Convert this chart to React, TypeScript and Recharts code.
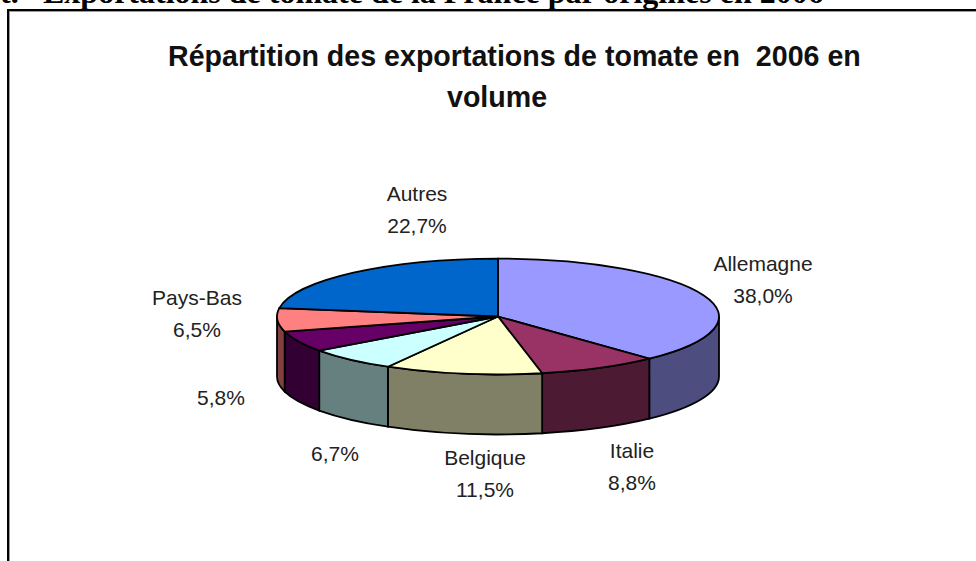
import { PieChart, Pie } from "recharts"

const categories = ["Allemagne", "Italie", "Belgique", "", "", "Pays-Bas", "Autres"]
const shares = [38.0, 8.8, 11.5, 6.7, 5.8, 6.5, 22.7]
const topColors = ["#9999FF", "#993366", "#FFFFCC", "#CCFFFF", "#660066", "#FF8080", "#0066CC"]
const wallColors = ["#4D4D80", "#4D1A33", "#808066", "#668080", "#330033", "#804040", "#003366"]
// hand placed in the original, so they are kept by hand here too (centre x, first line y)
const labelSpots = [
  [763, 271],
  [632, 458],
  [485, 465],
  [335, 461],
  [221, 405],
  [197, 305],
  [417, 201],
]

const data = categories.map((name, i) => ({ name, value: shares[i], fill: topColors[i] }))

const FONT = "'Liberation Sans', Arial, sans-serif"
const SERIF = "'Liberation Serif', serif"
const WIDTH = 976
const HEIGHT = 561
const CX = 498
const CY = 316.5
const RX = 221
const SQUASH = 0.262
const DEPTH = 60

// recharts hands us polar angles, we flatten them onto the tilted ellipse
function pt(angle: number, r: number, dy = 0) {
  const a = (angle * Math.PI) / 180
  return [CX + r * Math.cos(a), CY - r * SQUASH * Math.sin(a) + dy]
}

function Slice3D(props: any) {
  const { startAngle, endAngle, outerRadius, index } = props
  const r = outerRadius
  const ry = r * SQUASH
  const [x0, y0] = pt(startAngle, r)
  const [x1, y1] = pt(endAngle, r)
  const large = Math.abs(startAngle - endAngle) > 180 ? 1 : 0
  const top = `M${CX},${CY} L${x0},${y0} A${r},${ry} 0 ${large} 1 ${x1},${y1} Z`

  // the wall only shows on the front half of the rim (polar -180..0)
  let wall = null
  const from = Math.min(startAngle, 0)
  const to = Math.max(endAngle, -180)
  if (from > to) {
    const [ax, ay] = pt(from, r)
    const [bx, by] = pt(to, r)
    wall = (
      <path
        d={`M${ax},${ay} A${r},${ry} 0 0 1 ${bx},${by} L${bx},${by + DEPTH} A${r},${ry} 0 0 0 ${ax},${ay + DEPTH} Z`}
        fill={wallColors[index]}
        stroke="#000"
        strokeWidth={1.8}
      />
    )
  }
  return (
    <g>
      {wall}
      <path d={top} fill={topColors[index]} stroke="#000" strokeWidth={1.8} />
    </g>
  )
}

const renderLabel = ({ index, name, value }: any) => {
  const [x, y] = labelSpots[index]
  const pct = `${value.toFixed(1).replace(".", ",")}%`
  return (
    <text x={x} y={y} textAnchor="middle" fontFamily={FONT} fontSize={21} fill="#222">
      {name && <tspan x={x}>{name}</tspan>}
      <tspan x={x} dy={name ? 32 : 0}>{pct}</tspan>
    </text>
  )
}

export default function App() {
  return (
    <div style={{ position: "absolute", left: 0, top: 0, width: WIDTH, height: HEIGHT, overflow: "hidden", background: "#fff" }}>
      <div style={{ position: "absolute", left: 43, top: -26, whiteSpace: "nowrap", fontFamily: SERIF, fontWeight: "bold", fontSize: 32, color: "#000" }}>
        Exportations de tomate de la France par origines en 2006
      </div>
      <div style={{ position: "absolute", left: 0, top: -26, fontFamily: SERIF, fontWeight: "bold", fontSize: 32 }}>t.</div>
      <div
        style={{
          position: "absolute", left: 7, top: 9, width: 1000, height: 600,
          border: "2px solid #000", boxSizing: "border-box", boxShadow: "inset 1px 1px 0 #999",
        }}
      />
      <div style={{ position: "absolute", left: 168, top: 40, whiteSpace: "nowrap", fontFamily: FONT, fontWeight: "bold", fontSize: 28.6, color: "#111" }}>
        Répartition des exportations de tomate en&nbsp; 2006 en
      </div>
      <div style={{ position: "absolute", left: 447, top: 81, whiteSpace: "nowrap", fontFamily: FONT, fontWeight: "bold", fontSize: 28.6, color: "#111" }}>
        volume
      </div>
      <div style={{ position: "absolute", left: 0, top: 0 }}>
        <PieChart width={WIDTH} height={HEIGHT} margin={{ top: 0, right: 0, bottom: 0, left: 0 }}>
          <Pie
            data={data}
            dataKey="value"
            nameKey="name"
            cx={CX}
            cy={CY}
            outerRadius={RX}
            startAngle={90}
            endAngle={-270}
            shape={Slice3D}
            label={renderLabel}
            labelLine={false}
            isAnimationActive={false}
          />
        </PieChart>
      </div>
    </div>
  )
}
